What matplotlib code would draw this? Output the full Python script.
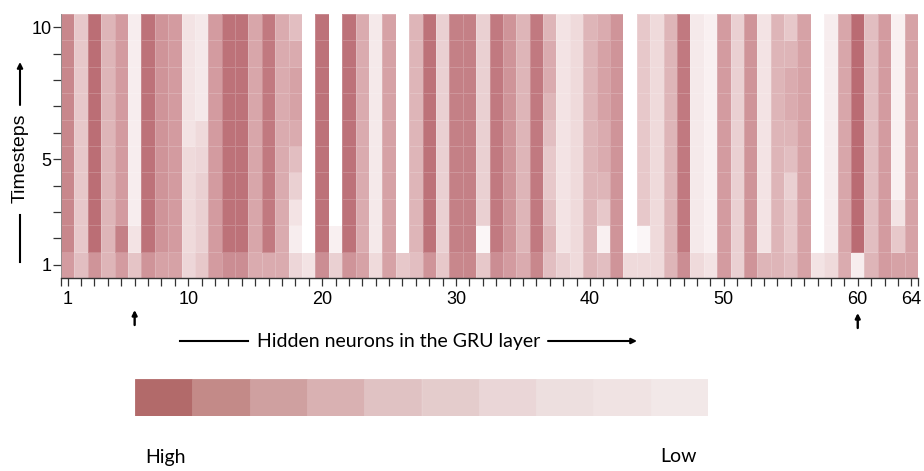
import numpy as np
import matplotlib
matplotlib.use("Agg")
import matplotlib.pyplot as plt
from matplotlib.colors import LinearSegmentedColormap
from matplotlib.lines import Line2D
from matplotlib.patches import FancyArrowPatch

# Activation strength of each hidden neuron (columns 1..64) per timestep (rows 1..10), 0-100
t01 = [55, 35, 60, 40, 55, 32, 60, 50, 50, 22, 30, 55, 65, 65, 45, 45, 45, 22, 15, 65,
       25, 60, 50, 20, 50, 30, 35, 60, 30, 70, 70, 30, 65, 55, 45, 70, 35, 25, 20, 40,
       35, 60, 20, 20, 20, 40, 65, 20, 15, 55, 25, 60, 40, 40, 35, 50, 15, 20, 45, 10,
       40, 55, 50, 50]
t02 = [70, 30, 88, 40, 75, 15, 85, 60, 55, 20, 25, 55, 85, 85, 48, 80, 45, 10, 0, 85,
       8, 85, 45, 12, 50, 0, 40, 85, 25, 75, 75, 5, 80, 60, 40, 80, 40, 15, 20, 40,
       8, 60, 0, 5, 20, 40, 80, 12, 8, 55, 25, 60, 15, 40, 30, 50, 0, 10, 48, 90,
       35, 55, 30, 50]
t03 = [70, 30, 88, 40, 55, 10, 85, 60, 55, 20, 25, 55, 85, 85, 48, 80, 45, 15, 0, 85,
       0, 85, 45, 12, 50, 0, 40, 85, 25, 75, 75, 25, 80, 60, 40, 80, 35, 15, 20, 40,
       30, 60, 0, 30, 20, 40, 80, 12, 8, 55, 25, 60, 15, 40, 30, 50, 0, 10, 48, 90,
       35, 55, 15, 50]
t04 = [70, 30, 88, 40, 55, 10, 85, 60, 55, 20, 25, 55, 85, 85, 48, 80, 45, 25, 0, 85,
       0, 85, 45, 12, 50, 0, 40, 85, 25, 75, 75, 25, 80, 60, 40, 80, 30, 15, 20, 40,
       40, 60, 0, 30, 20, 40, 80, 12, 8, 55, 25, 60, 15, 40, 25, 50, 0, 10, 48, 90,
       35, 55, 8, 50]
t05 = [70, 30, 88, 40, 55, 10, 85, 60, 55, 20, 22, 55, 85, 85, 48, 80, 45, 35, 0, 85,
       0, 85, 45, 12, 50, 0, 40, 85, 25, 75, 75, 25, 80, 60, 40, 80, 30, 15, 20, 40,
       45, 60, 0, 30, 20, 40, 80, 12, 8, 55, 25, 60, 15, 40, 35, 50, 0, 10, 48, 90,
       35, 55, 8, 50]
t06 = [70, 30, 88, 40, 55, 10, 85, 60, 55, 15, 20, 55, 85, 85, 48, 80, 45, 45, 0, 85,
       0, 85, 45, 12, 50, 0, 40, 85, 25, 75, 75, 25, 80, 60, 40, 80, 35, 15, 20, 40,
       45, 60, 0, 30, 20, 40, 80, 12, 8, 55, 25, 60, 15, 40, 40, 50, 0, 10, 48, 90,
       35, 55, 8, 50]
t07 = [70, 30, 88, 40, 55, 10, 85, 60, 55, 15, 12, 55, 85, 85, 48, 80, 45, 50, 0, 85,
       0, 85, 45, 12, 50, 0, 40, 85, 25, 75, 75, 25, 80, 60, 40, 80, 40, 15, 20, 40,
       50, 60, 0, 30, 20, 40, 80, 12, 8, 55, 25, 60, 15, 40, 45, 50, 0, 10, 48, 90,
       35, 55, 8, 50]
t08 = [70, 30, 88, 40, 55, 10, 85, 60, 55, 15, 12, 55, 85, 85, 48, 80, 45, 50, 0, 85,
       0, 85, 45, 12, 50, 0, 40, 85, 25, 75, 75, 25, 80, 60, 40, 80, 45, 15, 20, 40,
       50, 60, 0, 30, 20, 40, 80, 12, 8, 55, 25, 60, 15, 40, 45, 50, 0, 10, 48, 90,
       35, 55, 8, 50]
t09 = [70, 30, 88, 40, 55, 10, 85, 60, 55, 15, 12, 55, 85, 85, 48, 80, 45, 45, 0, 85,
       0, 85, 45, 12, 50, 0, 40, 85, 25, 75, 75, 25, 80, 60, 40, 80, 45, 15, 20, 40,
       50, 60, 0, 30, 20, 40, 80, 12, 8, 55, 25, 60, 15, 40, 40, 50, 0, 10, 48, 90,
       35, 55, 8, 50]
t10 = [70, 30, 88, 40, 55, 10, 85, 60, 55, 15, 12, 55, 85, 85, 48, 80, 45, 35, 0, 85,
       0, 85, 45, 12, 50, 0, 40, 85, 25, 75, 75, 25, 80, 60, 40, 80, 40, 15, 20, 40,
       45, 60, 0, 30, 20, 40, 80, 12, 8, 55, 25, 60, 15, 40, 30, 50, 0, 10, 48, 90,
       35, 55, 8, 50]

timesteps = [t01, t02, t03, t04, t05, t06, t07, t08, t09, t10]
x_tick_labels = [1, 10, 20, 30, 40, 50, 60, 64]
y_tick_labels = [1, 5, 10]
highlighted = [6, 60]

# Discrete legend swatches, high to low
legend_colors = ["#B26A6A", "#C38A88", "#CFA0A0", "#D9B1B2", "#E0C2C3",
                 "#E4CCCC", "#EAD6D7", "#EDDFDF", "#F0E3E3", "#F2E8E8"]

W, H = 924, 471
fig = plt.figure(figsize=(W / 100, H / 100), dpi=100)

def fx(px):
    return px / W

def fy(py):
    return 1 - py / H

cmap = LinearSegmentedColormap.from_list(
    "act", [(0.0, "#FFFFFF"), (0.5, "#D6A2A6"), (1.0, "#B35E66")])

left, right, top, bottom = 61, 918, 14, 278
ax = fig.add_axes([fx(left), fy(bottom), fx(right - left), (bottom - top) / H])
Z = np.array(timesteps, dtype=float)
n_rows, n_cols = Z.shape
xe = np.arange(n_cols + 1) + 0.5
ye = np.arange(n_rows + 1) + 0.5
ax.pcolormesh(xe, ye, Z, cmap=cmap, vmin=0, vmax=100,
              edgecolors=(1, 1, 1, 0.18), linewidth=0.4)
ax.set_xlim(0.5, n_cols + 0.5)
ax.set_ylim(0.5, n_rows + 0.5)

font_ax = "Liberation Sans"
ax.set_xticks(x_tick_labels)
ax.set_xticklabels([str(v) for v in x_tick_labels], fontsize=13, family=font_ax)
ax.set_xticks(list(np.arange(1, n_cols + 1)) + [0.5, n_cols + 0.5], minor=True)
ax.set_yticks(y_tick_labels)
ax.set_yticklabels([str(v) for v in y_tick_labels], fontsize=13, family=font_ax)
ax.set_yticks(np.arange(1, n_rows + 1), minor=True)
ax.tick_params(which="both", length=6, width=0.9, color="#333333")
ax.tick_params(axis="x", which="major", pad=3)
ax.tick_params(axis="y", which="major", pad=1)
for s in ["top", "right"]:
    ax.spines[s].set_visible(False)
ax.spines["bottom"].set_color("#333333")
ax.spines["bottom"].set_linewidth(1.0)
ax.spines["left"].set_color("#888888")
ax.spines["left"].set_linewidth(0.6)

# Upward arrows below highlighted neurons
arrow_y = {6: (325, 310), 60: (328, 313)}
for col in highlighted:
    y0, y1 = arrow_y[col]
    ax.annotate("", xy=(col, H - y1), xytext=(col, H - y0),
                xycoords=("data", "figure pixels"), textcoords=("data", "figure pixels"),
                arrowprops=dict(arrowstyle="-|>", lw=1.7, color="black",
                                mutation_scale=7, shrinkA=0, shrinkB=0),
                annotation_clip=False)

label_font = "Lato"
# x-axis caption with guiding line and arrow
fig.text(fx(399), fy(341), "Hidden neurons in the GRU layer", ha="center", va="center",
         fontsize=14, family=label_font)
fig.add_artist(Line2D([fx(180), fx(248)], [fy(341), fy(341)], color="black", lw=1.5))
fig.add_artist(FancyArrowPatch(
    (548, H - 341), (637, H - 341), transform=None, arrowstyle="-|>",
    mutation_scale=8, lw=1.5, color="black", shrinkA=0, shrinkB=0))

# y-axis caption with guiding line and arrow
fig.text(fx(20), fy(158), "Timesteps", ha="center", va="center", rotation=90,
         fontsize=14, family=font_ax)
fig.add_artist(Line2D([fx(20), fx(20)], [fy(215), fy(262)], color="black", lw=1.5))
fig.add_artist(FancyArrowPatch(
    (20, H - 105), (20, H - 62), transform=None, arrowstyle="-|>",
    mutation_scale=8, lw=1.5, color="black", shrinkA=0, shrinkB=0))

# Discrete legend strip
cax = fig.add_axes([fx(135), fy(416), fx(708 - 135), (416 - 379) / H])
cax.bar(np.arange(len(legend_colors)), 1, width=1.0, color=legend_colors,
        edgecolor=legend_colors, linewidth=0.6)
cax.set_xlim(-0.5, len(legend_colors) - 0.5)
cax.set_ylim(0, 1)
cax.axis("off")

fig.text(fx(145), fy(457), "High", ha="left", va="center", fontsize=14, family=label_font)
fig.text(fx(660), fy(457), "Low", ha="left", va="center", fontsize=14, family=label_font)

fig.savefig("out.png", dpi=100)
